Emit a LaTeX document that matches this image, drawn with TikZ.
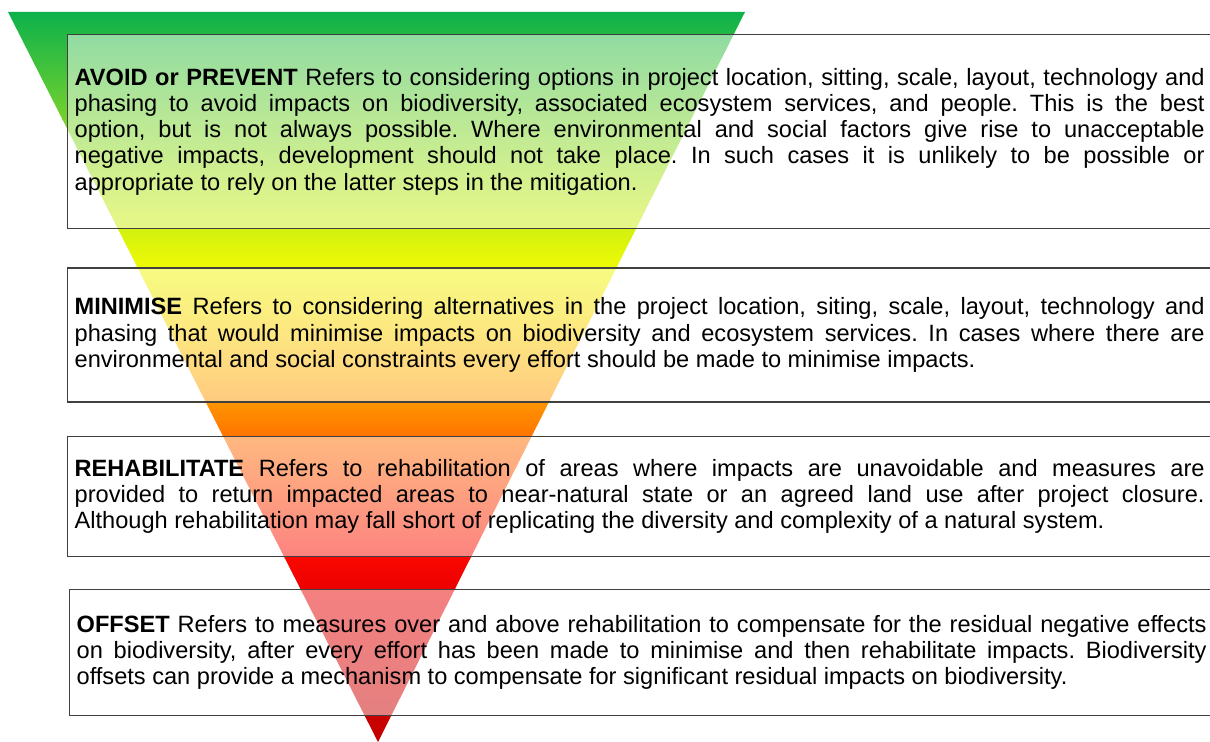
\documentclass[tikz,border=0pt]{standalone}
\usepackage{fontspec}
\setmainfont{Liberation Sans}
\usetikzlibrary{positioning}
\frenchspacing

\definecolor{boxgray}{RGB}{64,64,64}
\definecolor{hc0}{RGB}{13,177,75}
\definecolor{hc1}{RGB}{118,210,45}
\definecolor{hc2}{RGB}{210,240,15}
\definecolor{hc3}{RGB}{238,250,5}
\definecolor{hc4}{RGB}{252,205,0}
\definecolor{hc5}{RGB}{255,150,0}
\definecolor{hc6}{RGB}{255,115,0}
\definecolor{hc7}{RGB}{250,8,0}
\definecolor{hc8}{RGB}{235,0,0}
\definecolor{hc9}{RGB}{195,0,0}

\begin{document}
\begin{tikzpicture}[x=0.5pt,y=-0.5pt,
		stepbox/.style={draw=boxgray,line width=0.65pt,fill=white,fill opacity=0.5,text opacity=1,
			anchor=north west,inner xsep=3.5pt,inner ysep=0pt,text width=565pt,align=justify,
			font=\fontsize{11.8pt}{13.1pt}\selectfont}]

	\useasboundingbox (0,0) rectangle (1210,742);
	\clip (0,0) rectangle (1210,742);

	\coordinate (topleft) at (8,12);
	\coordinate (topright) at (745,12);
	\coordinate (apex) at (378,742);

	% the hierarchy triangle, green on top down to red
	\begin{scope}
		\clip (topleft) -- (topright) -- (apex) -- cycle;
		\foreach \ya/\yb/\ca/\cb in {12/120/hc0/hc1,120/228/hc1/hc2,228/267/hc2/hc3,267/335/hc3/hc4,
			335/401/hc4/hc5,401/436/hc5/hc6,436/556/hc6/hc7,556/589/hc7/hc8,589/742/hc8/hc9}
			\shade[top color=\ca,bottom color=\cb] (0,\ya) rectangle (1210,\yb+1);
	\end{scope}

	\node[stepbox,minimum height=97pt] (avoid) at (67,34)
		{\textbf{AVOID or PREVENT} Refers to considering options in project location, sitting, scale, layout, technology and\linebreak
		phasing to avoid impacts on biodiversity, associated ecosystem services, and people. This is the best\linebreak
		option, but is not always possible. Where environmental and social factors give rise to unacceptable\linebreak
		negative impacts, development should not take place. In such cases it is unlikely to be possible or\linebreak
		appropriate to rely on the latter steps in the mitigation.};
	\node[stepbox,minimum height=67pt] (minimise) [below right=19pt and 0pt of avoid.south west]
		{\textbf{MINIMISE} Refers to considering alternatives in the project location, siting, scale, layout, technology and\linebreak
		phasing that would minimise impacts on biodiversity and ecosystem services. In cases where there are\linebreak
		environmental and social constraints every effort should be made to minimise impacts.};
	\node[stepbox,minimum height=60pt] (rehab) [below right=16.5pt and 0pt of minimise.south west]
		{\textbf{REHABILITATE} Refers to rehabilitation of areas where impacts are unavoidable and measures are\linebreak
		provided to return impacted areas to near-natural state or an agreed land use after project closure.\linebreak
		Although rehabilitation may fall short of replicating the diversity and complexity of a natural system.};
	\node[stepbox,minimum height=63pt] (offset) [below right=16pt and 1pt of rehab.south west]
		{\textbf{OFFSET} Refers to measures over and above rehabilitation to compensate for the residual negative effects\linebreak
		on biodiversity, after every effort has been made to minimise and then rehabilitate impacts. Biodiversity\linebreak
		offsets can provide a mechanism to compensate for significant residual impacts on biodiversity.};
\end{tikzpicture}
\end{document}
